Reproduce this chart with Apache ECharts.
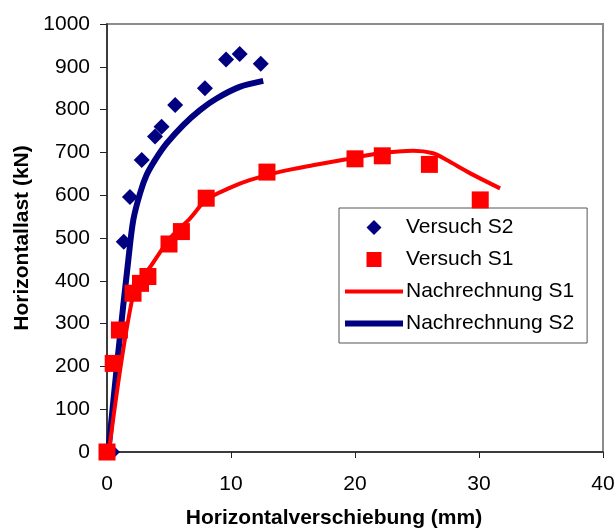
<!DOCTYPE html>
<html>
<head>
<meta charset="utf-8">
<script src="https://cdn.jsdelivr.net/npm/echarts@6/dist/echarts.min.js"></script>
<style>html,body{margin:0;padding:0;background:#fff}#c{width:616px;height:530px}</style>
</head>
<body>
<div id="c"></div>
<script>
// Data
const xTicks = [0, 10, 20, 30, 40];
const yTicks = [0, 100, 200, 300, 400, 500, 600, 700, 800, 900, 1000];

const versuchS2X = [0.4, 1.35, 1.85, 2.8, 3.87, 4.4, 5.5, 7.9, 9.6, 10.7, 12.4];
const versuchS2Y = [0, 491, 596, 682, 737, 760, 811, 850, 917, 930, 907];

const versuchS1X = [0, 0.5, 1.0, 2.1, 2.7, 3.3, 5.0, 6.0, 8.0, 12.9, 20.0, 22.2, 26.0, 30.1];
const versuchS1Y = [0, 207, 285, 371, 394, 410, 486, 515, 593, 654, 685, 692, 672, 589];

const nachS1X = [0.15, 2.2, 3.5, 5.1, 6.7, 8.0, 9.9, 11.5, 14.0, 16.6, 19.3, 22.0, 24.7, 26.3, 27.4, 29.3, 31.7];
const nachS1Y = [0, 380, 433, 500, 546, 589, 617, 635, 655, 670, 684, 698, 704, 698, 682, 651, 616];

const nachS2X = [0.1, 0.9, 1.72, 2.12, 2.66, 3.19, 3.87, 4.81, 6.15, 7.5, 8.84, 10.7, 12.6];
const nachS2Y = [0, 230, 449, 542, 604, 647, 682, 721, 764, 799, 826, 853, 867];

const legendNames = ['Versuch S2', 'Versuch S1', 'Nachrechnung S1', 'Nachrechnung S2'];

const zip = (a, b) => a.map((v, i) => [v, b[i]]);
const FONT = '"Liberation Sans", Arial, sans-serif';
const NAVY = '#000080';
const RED = '#ff0000';

// legend icons: invisible moveTo points fix the 58x15 box so shapes keep their aspect
const ICON_DIAMOND = 'path://M0,0M58,15M21.5,7.5L29,0L36.5,7.5L29,15Z';
const ICON_SQUARE = 'path://M0,0M58,15M21.5,0H36.5V15H21.5Z';
const ICON_LINE_THIN = 'path://M0,0M58,15M0,5.5H58V9.5H0Z';
const ICON_LINE_THICK = 'path://M0,0M58,15M0,4.5H58V10.5H0Z';

const chart = echarts.init(document.getElementById('c'), null, {renderer: 'canvas'});
chart.setOption({
  animation: false,
  backgroundColor: '#fff',
  grid: {left: 107, right: 13, top: 24, bottom: 78, outerBoundsMode: 'none', containLabel: false,
         show: true, borderColor: '#8c8c8c', borderWidth: 2, backgroundColor: 'transparent'},
  xAxis: {
    type: 'value', min: xTicks[0], max: xTicks[xTicks.length - 1], interval: 10,
    name: 'Horizontalverschiebung (mm)', nameLocation: 'middle', nameGap: 56,
    nameTextStyle: {fontFamily: FONT, fontSize: 21, fontWeight: 'bold', color: '#000', padding: [0, 42, 0, 0]},
    axisLine: {lineStyle: {color: '#222', width: 1.5}},
    axisTick: {inside: false, length: 6, lineStyle: {color: '#222'}},
    axisLabel: {fontFamily: FONT, fontSize: 21, color: '#000', margin: 22, formatter: v => String(v)},
    splitLine: {show: false}
  },
  yAxis: {
    type: 'value', min: yTicks[0], max: yTicks[yTicks.length - 1], interval: 100,
    name: 'Horizontallast (kN)', nameLocation: 'middle', nameGap: 74, nameRotate: 90,
    nameTextStyle: {fontFamily: FONT, fontSize: 21, fontWeight: 'bold', color: '#000'},
    axisLine: {show: true, lineStyle: {color: '#222', width: 1.5}},
    axisTick: {show: true, inside: false, length: 7, lineStyle: {color: '#222'}},
    axisLabel: {fontFamily: FONT, fontSize: 21, color: '#000', margin: 17, formatter: v => String(v)},
    splitLine: {show: false}
  },
  legend: {
    orient: 'vertical', left: 339, top: 208,
    backgroundColor: '#fff', borderColor: '#555', borderWidth: 1,
    padding: [9, 13, 9, 6], itemGap: 11, itemWidth: 58, itemHeight: 15,
    textStyle: {fontFamily: FONT, fontSize: 21, color: '#000', padding: [0, 0, 0, -2]},
    data: [
      {name: legendNames[0], icon: ICON_DIAMOND},
      {name: legendNames[1], icon: ICON_SQUARE},
      {name: legendNames[2], icon: ICON_LINE_THIN},
      {name: legendNames[3], icon: ICON_LINE_THICK}
    ]
  },
  series: [
    {name: legendNames[3], type: 'line', data: zip(nachS2X, nachS2Y), showSymbol: false, symbol: 'none', smooth: 0.3,
     lineStyle: {color: NAVY, width: 6}, itemStyle: {color: NAVY}, z: 2},
    {name: legendNames[2], type: 'line', data: zip(nachS1X, nachS1Y), showSymbol: false, symbol: 'none', smooth: 0.3,
     lineStyle: {color: RED, width: 4}, itemStyle: {color: RED}, z: 2},
    {name: legendNames[0], type: 'scatter', data: zip(versuchS2X, versuchS2Y), symbol: 'diamond', symbolSize: 16,
     itemStyle: {color: NAVY, opacity: 1}, z: 3},
    {name: legendNames[1], type: 'scatter', data: zip(versuchS1X, versuchS1Y), symbol: 'rect', symbolSize: 17,
     itemStyle: {color: RED, opacity: 1}, z: 4}
  ]
});
</script>
</body>
</html>
